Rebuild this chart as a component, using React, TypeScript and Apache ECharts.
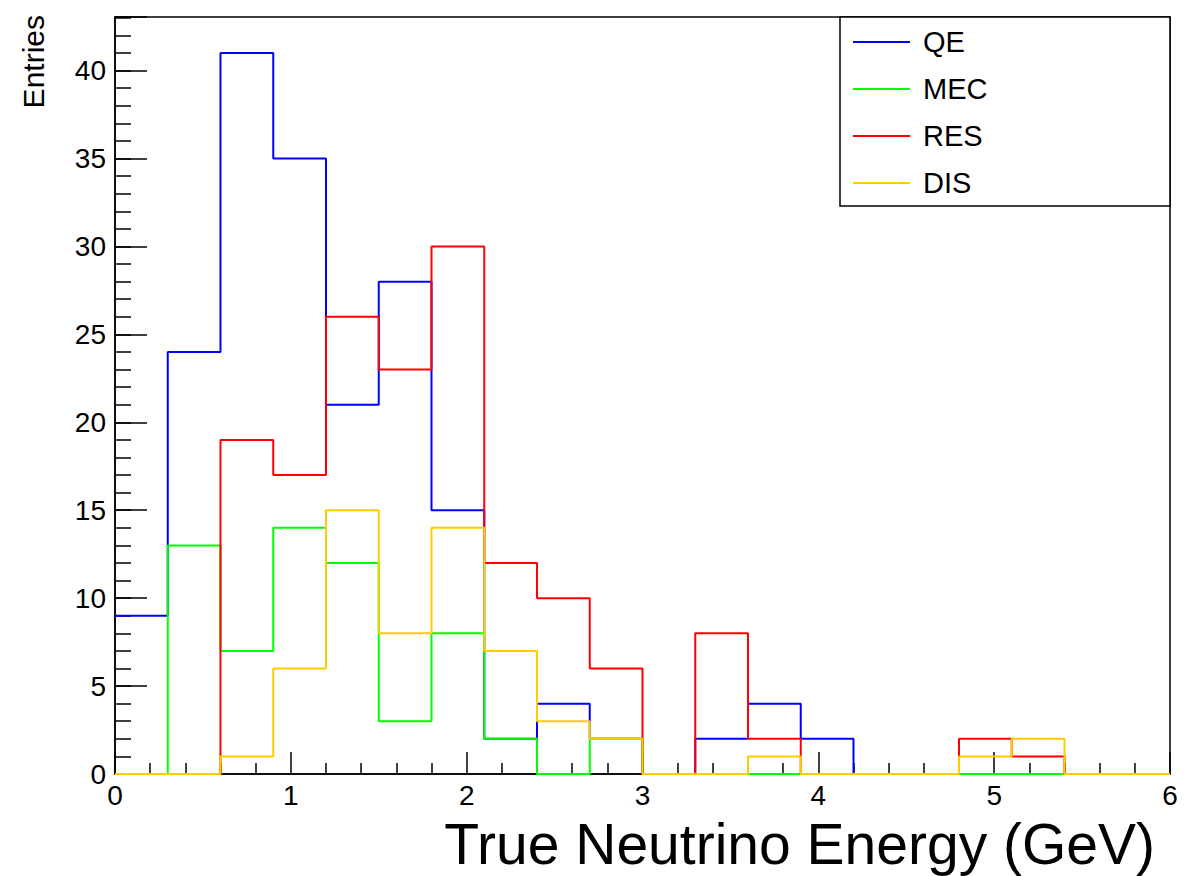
import React, { useEffect, useRef } from "react";
import * as echarts from "echarts";

// Bin edges (GeV), 20 bins of 0.3 GeV
const binEdges = [0, 0.3, 0.6, 0.9, 1.2, 1.5, 1.8, 2.1, 2.4, 2.7, 3.0, 3.3, 3.6, 3.9, 4.2, 4.5, 4.8, 5.1, 5.4, 5.7, 6.0];

const qe = [9, 24, 41, 35, 21, 28, 15, 2, 4, 2, 0, 2, 4, 2, 0, 0, 0, 0, 0, 0];
const mec = [0, 13, 7, 14, 12, 3, 8, 2, 0, 2, 0, 0, 0, 0, 0, 0, 0, 0, 0, 0];
const res = [0, 0, 19, 17, 26, 23, 30, 12, 10, 6, 0, 8, 2, 0, 0, 0, 2, 1, 0, 0];
const dis = [0, 0, 1, 6, 15, 8, 14, 7, 3, 2, 0, 0, 1, 0, 0, 0, 1, 2, 0, 0];

const seriesNames = ["QE", "MEC", "RES", "DIS"];
const seriesColors = ["#0000ff", "#00ff00", "#ff0000", "#ffcc00"];

const xTitle = "True Neutrino Energy (GeV)";
const yTitle = "Entries";
const yMax = 43.05;

const FONT = "'Liberation Sans', Arial, Helvetica, sans-serif";

function histData(vals: number[]) {
  const pts = vals.map((v, i) => [binEdges[i], v]);
  pts.push([binEdges[binEdges.length - 1], vals[vals.length - 1]]);
  return pts;
}

export default function App() {
  const ref = useRef<HTMLDivElement>(null);
  useEffect(() => {
    if (!ref.current) return;
    const chart = echarts.init(ref.current, undefined, { renderer: "svg" });
    const allVals = [qe, mec, res, dis];
    chart.setOption({
      animation: false,
      backgroundColor: "#ffffff",
      textStyle: { fontFamily: FONT, color: "#000" },
      grid: {
        left: 115,
        right: 22,
        top: 17,
        bottom: 102,
        show: true,
        borderColor: "#000",
        borderWidth: 1.5,
        backgroundColor: "transparent",
      },
      xAxis: {
        type: "value",
        min: 0,
        max: 6,
        interval: 1,
        axisLine: { show: true, onZero: false, lineStyle: { color: "#000", width: 1.5 } },
        axisTick: { show: true, inside: true, length: 22, lineStyle: { color: "#000", width: 1.5 } },
        minorTick: { show: true, splitNumber: 5, length: 11, lineStyle: { color: "#000", width: 1.5 } },
        splitLine: { show: false },
        minorSplitLine: { show: false },
        axisLabel: { fontSize: 28, color: "#000", margin: 7, fontFamily: FONT },
      },
      yAxis: [
        {
          type: "value",
          min: 0,
          max: yMax,
          interval: 1,
          position: "left",
          axisLine: { show: true, onZero: false, lineStyle: { color: "#000", width: 1.5 } },
          axisTick: { show: true, inside: true, length: 16, lineStyle: { color: "#000", width: 1.5 } },
          splitLine: { show: false },
          axisLabel: { show: false },
        },
        {
          type: "value",
          min: 0,
          max: yMax,
          interval: 5,
          position: "left",
          offset: 0,
          axisLine: { show: false },
          axisTick: { show: true, inside: true, length: 32, lineStyle: { color: "#000", width: 1.5 } },
          splitLine: { show: false },
          axisLabel: {
            fontSize: 28,
            color: "#000",
            margin: 9,
            fontFamily: FONT,
            formatter: (v: number) => (Math.abs(v % 5) < 1e-9 ? String(v) : ""),
          },
        },
      ],
      legend: {
        orient: "vertical",
        left: 853,
        top: 27,
        padding: 0,
        itemWidth: 57,
        itemHeight: 2,
        itemGap: 17,
        icon: "rect",
        z: 10,
        data: seriesNames,
        textStyle: { fontSize: 29, lineHeight: 30, color: "#000", fontFamily: FONT, padding: [0, 0, 0, 8] },
      },
      graphic: [
        {
          type: "rect",
          z: 5,
          shape: { x: 840, y: 17, width: 330, height: 189 },
          style: { fill: "#fff", stroke: "#000", lineWidth: 1.5 },
        },
        {
          type: "text",
          x: 1155,
          y: 844,
          style: { text: xTitle, font: `57px ${FONT}`, fill: "#000", align: "right", verticalAlign: "middle" },
        },
        {
          type: "text",
          x: 33,
          y: 15,
          rotation: Math.PI / 2,
          style: { text: yTitle, font: `30px ${FONT}`, fill: "#000", align: "right", verticalAlign: "middle" },
        },
      ],
      series: seriesNames.map((name, i) => ({
        name,
        type: "line",
        step: "end",
        symbol: "none",
        clip: false,
        yAxisIndex: 0,
        data: histData(allVals[i]),
        lineStyle: { color: seriesColors[i], width: 2 },
        itemStyle: { color: seriesColors[i] },
        emphasis: { disabled: true },
      })),
    });
    return () => chart.dispose();
  }, []);
  return (
    <div
      ref={ref}
      style={{ position: "absolute", left: 0, top: 0, width: 1192, height: 876 }}
    />
  );
}
